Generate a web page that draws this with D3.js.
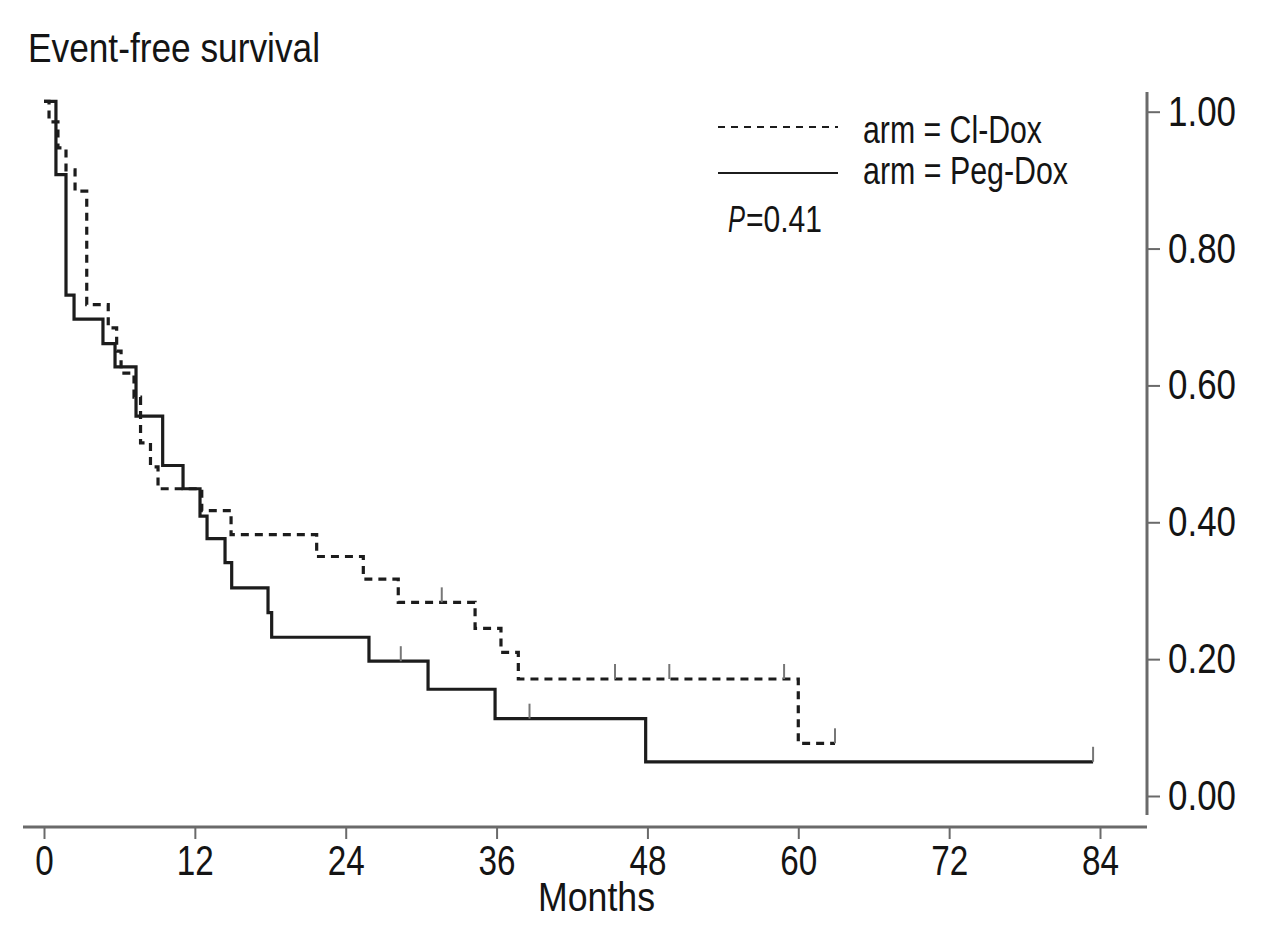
<!DOCTYPE html>
<html>
<head>
<meta charset="utf-8">
<script src="https://cdn.jsdelivr.net/npm/d3@7"></script>
<style>
  html, body { margin: 0; padding: 0; background: #fff; }
  svg { display: block; }
  text { font-family: "Liberation Sans", Arial, sans-serif; fill: #141414; }
</style>
</head>
<body>
<div class="container"></div>
<script>
// Cl-Dox arm (dashed), step times in months and survival after each step
const clDoxTimes = [0, 0.40, 1.11, 1.75, 2.47, 3.40, 5.11, 5.78, 6.13, 7.16, 7.68, 8.47, 9.07, 12.55, 14.88, 21.69, 25.40, 28.18, 34.29, 36.35, 37.73, 60.0, 62.92];
const clDoxSurv = [1.015, 0.985, 0.947, 0.915, 0.884, 0.718, 0.684, 0.650, 0.618, 0.583, 0.516, 0.481, 0.449, 0.417, 0.382, 0.350, 0.317, 0.283, 0.245, 0.210, 0.171, 0.077, 0.077];
const clDoxCensored = [31.64, 45.42, 49.74, 58.87, 62.92];

// Peg-Dox arm (solid)
const pegDoxTimes = [0, 0.95, 1.75, 2.39, 4.69, 5.65, 7.32, 9.44, 11.06, 12.41, 12.97, 14.40, 14.93, 17.82, 18.11, 25.85, 30.55, 35.88, 47.86, 83.45];
const pegDoxSurv = [1.015, 0.908, 0.732, 0.697, 0.661, 0.627, 0.555, 0.483, 0.449, 0.409, 0.376, 0.341, 0.304, 0.268, 0.232, 0.197, 0.156, 0.113, 0.050, 0.050];
const pegDoxCensored = [28.38, 38.62, 83.45];

const monthTicks = [0, 12, 24, 36, 48, 60, 72, 84];
const survTicks = [0, 0.2, 0.4, 0.6, 0.8, 1.0];
const legendLabels = ["arm = Cl-Dox", "arm = Peg-Dox"];
const pValueText = "=0.41";

const width = 1280;
const height = 929;
const svg = d3.select(".container").append("svg")
  .attr("width", width)
  .attr("height", height);

const x = d3.scaleLinear().domain([0, 84]).range([44, 1100]);
const y = d3.scaleLinear().domain([0, 1]).range([796, 111.7]);

const axisColor = "#6a6a6a";
const lineColor = "#1c1c1c";
const xAxisY = 827;
const yAxisX = 1147;

// condensed look: squeeze the glyphs to the widths of the original
function squeeze(sel, len) {
  sel.attr("textLength", len).attr("lengthAdjust", "spacingAndGlyphs");
}

// title
svg.append("text")
  .attr("x", 28)
  .attr("y", 62)
  .attr("font-size", 40)
  .call(squeeze, 292)
  .text("Event-free survival");

// x axis
const xAxis = svg.append("g")
  .attr("transform", `translate(0,${xAxisY})`)
  .call(d3.axisBottom(x).tickValues(monthTicks).tickSize(12).tickSizeOuter(0).tickPadding(6));
xAxis.select(".domain").remove();
xAxis.selectAll(".tick line").attr("stroke", axisColor).attr("stroke-width", 2);
xAxis.selectAll(".tick text")
  .attr("font-size", 42)
  .attr("font-family", null)
  .each(function (d) {
    d3.select(this).call(squeeze, String(d).length * 18.5);
  });
xAxis.append("line")
  .attr("x1", 23).attr("x2", yAxisX)
  .attr("stroke", axisColor).attr("stroke-width", 3);

svg.append("text")
  .attr("x", 538)
  .attr("y", 911)
  .attr("font-size", 41)
  .call(squeeze, 117)
  .text("Months");

// y axis on the right
const yAxis = svg.append("g")
  .attr("transform", `translate(${yAxisX},0)`)
  .call(d3.axisRight(y).tickValues(survTicks).tickFormat(d3.format(".2f")).tickSize(13).tickSizeOuter(0).tickPadding(8));
yAxis.select(".domain").remove();
yAxis.selectAll(".tick line").attr("stroke", axisColor).attr("stroke-width", 2);
yAxis.selectAll(".tick text")
  .attr("font-size", 42)
  .attr("font-family", null)
  .call(squeeze, 68);
yAxis.append("line")
  .attr("y1", 92).attr("y2", 815)
  .attr("stroke", axisColor).attr("stroke-width", 3);

// curves
const stepLine = d3.line()
  .x((d) => x(d[0]))
  .y((d) => y(d[1]))
  .curve(d3.curveStepAfter);

function survivalAt(times, surv, t) {
  const i = d3.bisectRight(times, t) - 1;
  return surv[Math.max(0, i)];
}

function drawArm(times, surv, censored, dash) {
  const pts = times.map((t, i) => [t, surv[i]]);
  svg.append("path")
    .datum(pts)
    .attr("d", stepLine)
    .attr("fill", "none")
    .attr("stroke", lineColor)
    .attr("stroke-width", 3.2)
    .attr("stroke-dasharray", dash);

  svg.selectAll(null)
    .data(censored)
    .enter()
    .append("line")
    .attr("x1", (d) => x(d))
    .attr("x2", (d) => x(d))
    .attr("y1", (d) => y(survivalAt(times, surv, d)))
    .attr("y2", (d) => y(survivalAt(times, surv, d)) - 15)
    .attr("stroke", "#777")
    .attr("stroke-width", 2);
}

drawArm(clDoxTimes, clDoxSurv, clDoxCensored, "8,6");
drawArm(pegDoxTimes, pegDoxSurv, pegDoxCensored, null);

// legend
const legendWidths = [179, 205];
const legend = svg.append("g").attr("transform", "translate(718,127)");
legendLabels.forEach((label, i) => {
  legend.append("line")
    .attr("x1", 0).attr("x2", 120)
    .attr("y1", i * 46).attr("y2", i * 46)
    .attr("stroke", lineColor)
    .attr("stroke-width", 2)
    .attr("stroke-dasharray", i === 0 ? "7,6" : null);
  legend.append("text")
    .attr("x", 145)
    .attr("y", i === 0 ? 16 : 57)
    .attr("font-size", 38)
    .call(squeeze, legendWidths[i])
    .text(label);
});

// p-value, italic P then the value
svg.append("text")
  .attr("x", 728)
  .attr("y", 232)
  .attr("font-size", 37)
  .attr("font-style", "italic")
  .call(squeeze, 17)
  .text("P");
svg.append("text")
  .attr("x", 746)
  .attr("y", 232)
  .attr("font-size", 37)
  .call(squeeze, 76)
  .text(pValueText);
</script>
</body>
</html>
